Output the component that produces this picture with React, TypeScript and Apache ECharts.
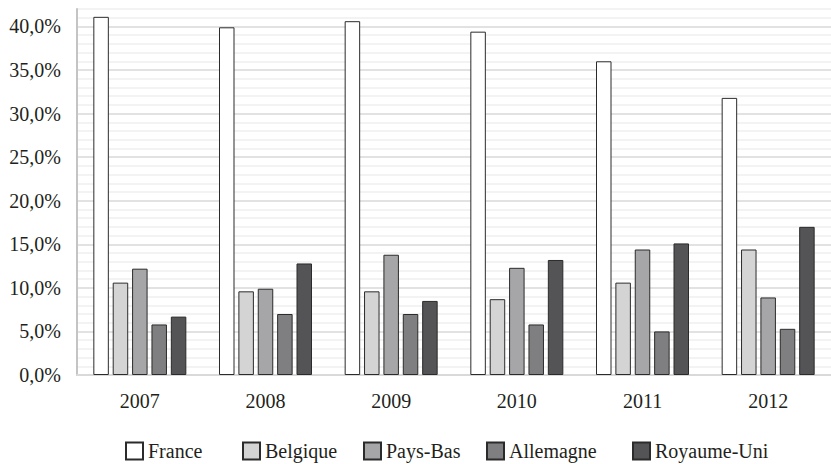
import React, { useEffect, useRef } from "react";
import * as echarts from "echarts";

const years = ["2007", "2008", "2009", "2010", "2011", "2012"];
const france = [41.1, 39.9, 40.6, 39.4, 36.0, 31.8];
const belgique = [10.6, 9.6, 9.6, 8.7, 10.6, 14.4];
const paysBas = [12.2, 9.9, 13.8, 12.3, 14.4, 8.9];
const allemagne = [5.8, 7.0, 7.0, 5.8, 5.0, 5.3];
const royaumeUni = [6.7, 12.8, 8.5, 13.2, 15.1, 17.0];

const seriesNames = ["France", "Belgique", "Pays-Bas", "Allemagne", "Royaume-Uni"];
const seriesData = [france, belgique, paysBas, allemagne, royaumeUni];
const fills = ["#ffffff", "#d4d4d4", "#a6a6a8", "#7f7f81", "#545456"];
const legendLefts = [125, 242, 363, 486, 632];

const FONT = "Liberation Serif";

export default function App() {
  const ref = useRef<HTMLDivElement>(null);
  useEffect(() => {
    document.body.style.margin = "0";
    const chart = echarts.init(ref.current!, null, { renderer: "svg" });
    chart.setOption({
      animation: false,
      backgroundColor: "#ffffff",
      textStyle: { fontFamily: FONT },
      grid: { left: 77, right: 0, top: 9, bottom: 89, containLabel: false },
      legend: seriesNames.map((name, i) => ({
        left: legendLefts[i],
        top: 441,
        padding: 0,
        icon: "rect",
        itemWidth: 17,
        itemHeight: 17,
        itemGap: 0,
        textStyle: { fontFamily: FONT, fontSize: 20, color: "#231f20" },
        data: [name],
      })),
      xAxis: {
        type: "category",
        data: years,
        axisTick: { show: false },
        axisLine: { show: true, lineStyle: { color: "#d9d9d9", width: 2 } },
        axisLabel: { fontFamily: FONT, fontSize: 20, color: "#231f20", margin: 16 },
      },
      yAxis: {
        type: "value",
        min: 0,
        max: 42,
        interval: 1,
        axisTick: { show: false },
        axisLine: { show: true, lineStyle: { color: "#c4c4c4", width: 2 } },
        axisLabel: {
          fontFamily: FONT,
          fontSize: 20,
          color: "#231f20",
          margin: 16,
          padding: [7, 0, 0, 0],
          formatter: (v: number) =>
            Math.round(v) % 5 === 0 ? v.toFixed(1).replace(".", ",") + "%" : "",
        },
        splitLine: {
          show: true,
          lineStyle: {
            color: ["#d9d9d9", "#efefef", "#efefef", "#efefef", "#efefef"],
            width: 1.5,
          },
        },
      },
      series: seriesNames.map((name, i) => ({
        name,
        type: "bar",
        data: seriesData[i],
        barWidth: 15.5,
        barGap: "25%",
        itemStyle: { color: fills[i], borderColor: "#2b2b2b", borderWidth: 1 },
      })),
    });
    return () => chart.dispose();
  }, []);
  return <div ref={ref} style={{ width: 831, height: 464 }} />;
}
